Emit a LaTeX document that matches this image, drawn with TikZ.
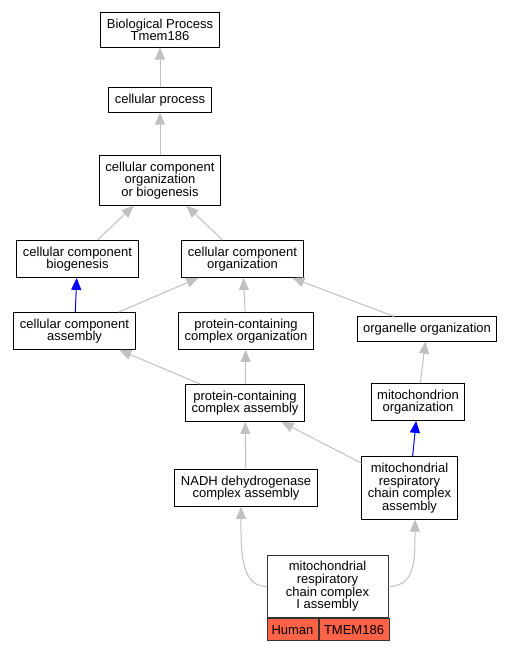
\documentclass[tikz,border=0pt]{standalone}
\usepackage{fontspec}
\setmainfont{Liberation Sans}
\usepackage{tikz}
\usetikzlibrary{arrows.meta,calc,positioning,shapes}

\definecolor{edgegray}{RGB}{192,192,192}
\definecolor{hitred}{RGB}{255,99,71}

\tikzset{
  term/.style={draw=black, line width=1pt, align=center, inner xsep=6pt, inner ysep=6pt,
    font=\fontsize{13}{12.7}\selectfont},
  cell/.style={draw=black!80, line width=1pt, fill=hitred, inner sep=0pt, minimum height=22pt,
    font=\fontsize{13}{12.7}\selectfont},
  isa/.style={draw=edgegray, line width=1pt, -{Triangle[length=12pt,width=10pt]}},
  partof/.style={draw=blue, line width=1pt, -{Triangle[length=12pt,width=10pt]}},
}

\begin{document}
\begin{tikzpicture}[x=1pt,y=-1pt]
    \useasboundingbox (0,0) rectangle (511,651);

    \node[term] (bp) at (160,30) {Biological Process\\Tmem186};

    \node[term] (cp) at (160,100) {cellular process};

    \node[term] (ccob) at (160,180.5) {cellular component\\organization\\or biogenesis};

    \node[term] (ccb) at (77.5,259) {cellular component\\biogenesis};
    \node[term] (cco) at (242.5,259) {cellular component\\organization};

    \node[term] (cca) at (74.5,331) {cellular component\\assembly};
    \node[term] (pcco) at (246,331) {protein-containing\\complex organization};
    \node[term] (oo) at (427,329) {organelle organization};

    \node[term] (pcca) at (245,403) {protein-containing\\complex assembly};
    \node[term] (mo) at (418,402) {mitochondrion\\organization};

    \node[term] (nadh) at (246,488) {NADH dehydrogenase\\complex assembly};
    \node[term] (mrcca) at (409.5,488) {mitochondrial\\respiratory\\chain complex\\assembly};

    \node[term, draw=black!80, minimum width=121pt] (mrc1) at (327.5,586.5) {mitochondrial\\respiratory\\chain complex\\I assembly};
    \node[cell, anchor=north west, minimum width=51pt] (human) at (mrc1.south west) {Human};
    \node[cell, anchor=north west, minimum width=70pt] (tmem) at (human.north east) {TMEM186};



    \draw[isa] (cp) to (bp) ;
    \draw[isa] (ccob) to (cp) ;
    \draw[isa] (ccb) to (ccob) ;
    \draw[isa] (cco) to (ccob) ;
    \draw[partof] (cca) to (ccb) ;
    \draw[isa] (cca) to (cco) ;
    \draw[isa] (pcco) to (cco) ;
    \draw[isa] (oo) to (cco) ;
    \draw[isa] (pcca) to (cca) ;
    \draw[isa] (pcca) to (pcco) ;
    \draw[isa] (mo) to (oo) ;
    \draw[isa] (mrcca) to (pcca) ;
    \draw[partof] (mrcca) to (mo) ;
    \draw[isa] (nadh) to (pcca) ;
    \draw[isa] (mrc1.west) .. controls +(-27,0) and +(0,40) .. ([xshift=-5pt]nadh.south) ;
    \draw[isa] (mrc1.east) .. controls +(27,0) and +(0,40) .. ([xshift=5.5pt]mrcca.south) ;

    \end{tikzpicture}
\end{document}
